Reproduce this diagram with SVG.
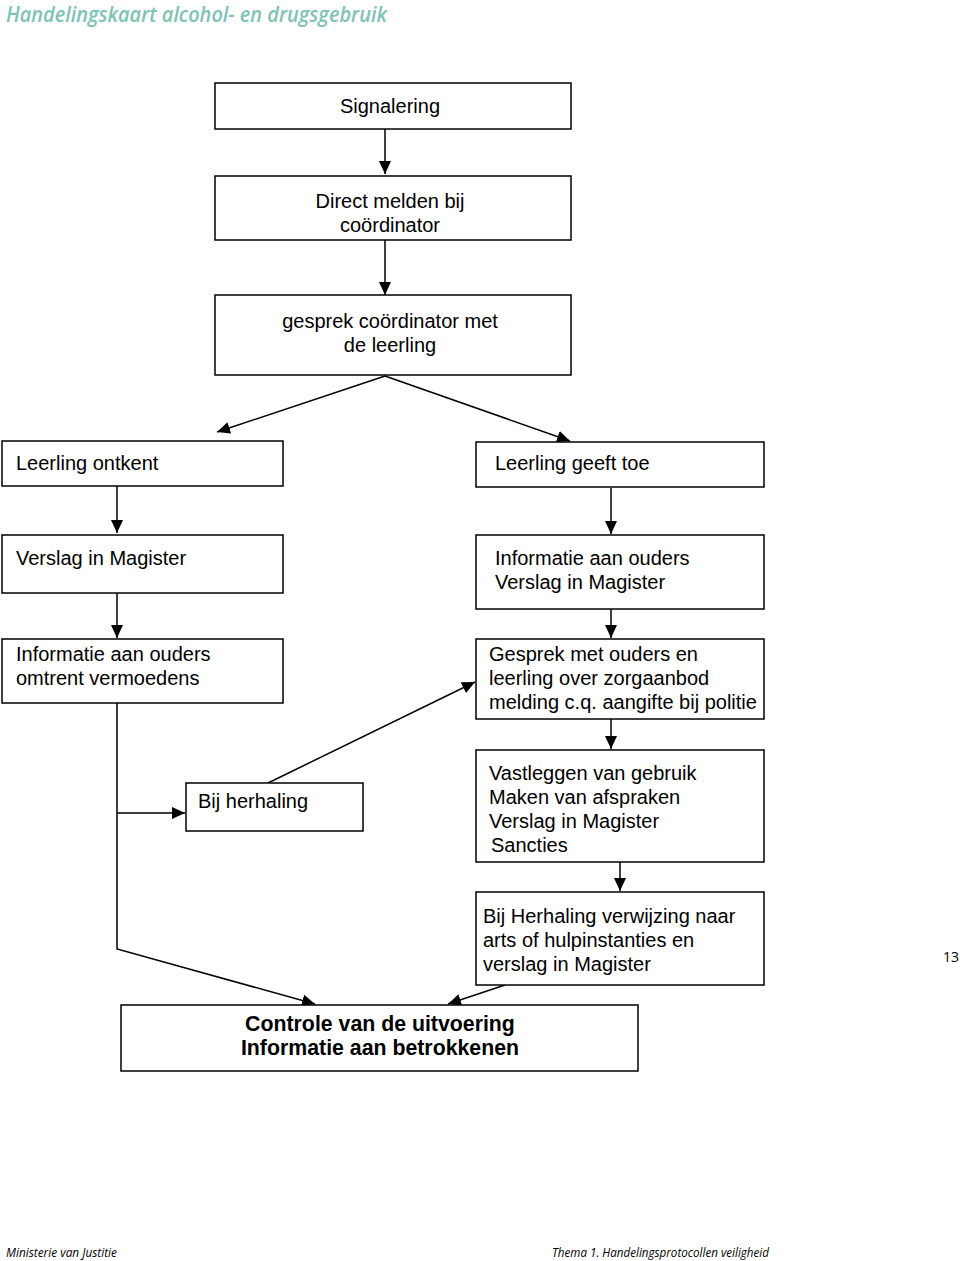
<svg xmlns="http://www.w3.org/2000/svg" width="960" height="1261" viewBox="0 0 960 1261">
<style>
.box{fill:#fff;stroke:#000;stroke-width:1.5}
.t{font-family:"Liberation Sans",Arial,sans-serif;font-size:20px;fill:#000}
.c{text-anchor:middle}
.b{font-weight:bold;font-size:21.3px}
.ln{stroke:#000;stroke-width:1.5;fill:none}
.hdr{font-family:"Open Sans","Noto Sans",sans-serif;font-style:italic;font-weight:600;fill:#7dc3b6}
.ft{font-family:"Open Sans","Noto Sans",sans-serif;font-style:italic;font-size:12.5px;fill:#000}
</style>
<defs>
<marker id="ah" markerUnits="userSpaceOnUse" markerWidth="14" markerHeight="12" refX="13" refY="6" orient="auto">
<path d="M0,0 L13,6 L0,12 Z" fill="#000"/>
</marker>
</defs>
<rect width="960" height="1261" fill="#fff"/>
<text class="hdr" x="6" y="22" font-size="22" textLength="381" lengthAdjust="spacingAndGlyphs">Handelingskaart alcohol- en drugsgebruik</text>

<g id="connectors">
<line class="ln" x1="385" y1="129" x2="385" y2="174" marker-end="url(#ah)"/>
<line class="ln" x1="385" y1="240" x2="385" y2="295" marker-end="url(#ah)"/>
<line class="ln" x1="385" y1="376" x2="217" y2="432" marker-end="url(#ah)"/>
<line class="ln" x1="385" y1="376" x2="570" y2="441" marker-end="url(#ah)"/>
<line class="ln" x1="117" y1="486" x2="117" y2="533" marker-end="url(#ah)"/>
<line class="ln" x1="611" y1="488" x2="611" y2="534" marker-end="url(#ah)"/>
<line class="ln" x1="117" y1="593" x2="117" y2="638" marker-end="url(#ah)"/>
<line class="ln" x1="611" y1="609" x2="611" y2="638" marker-end="url(#ah)"/>
<line class="ln" x1="611" y1="719" x2="611" y2="749" marker-end="url(#ah)"/>
<line class="ln" x1="620" y1="860" x2="620" y2="891" marker-end="url(#ah)"/>
<polyline class="ln" points="117,703 117,949 315,1004" marker-end="url(#ah)"/>
<line class="ln" x1="117" y1="813" x2="185" y2="813" marker-end="url(#ah)"/>
<line class="ln" x1="268" y1="783" x2="475" y2="682" marker-end="url(#ah)"/>
<line class="ln" x1="505" y1="985" x2="448" y2="1004" marker-end="url(#ah)"/>
</g>

<g id="n1"><rect class="box" x="215" y="83" width="356" height="46"/><text class="t c" x="390" y="113">Signalering</text></g>
<g id="n2"><rect class="box" x="215" y="176" width="356" height="64"/><text class="t c" x="390" y="208">Direct melden bij</text><text class="t c" x="390" y="232">coördinator</text></g>
<g id="n3"><rect class="box" x="215" y="295" width="356" height="80"/><text class="t c" x="390" y="328">gesprek coördinator met</text><text class="t c" x="390" y="352">de leerling</text></g>
<g id="n4"><rect class="box" x="2" y="441" width="281" height="45"/><text class="t" x="16" y="470">Leerling ontkent</text></g>
<g id="n5"><rect class="box" x="476" y="442" width="288" height="45"/><text class="t" x="495" y="470">Leerling geeft toe</text></g>
<g id="n6"><rect class="box" x="2" y="535" width="281" height="58"/><text class="t" x="16" y="565">Verslag in Magister</text></g>
<g id="n7"><rect class="box" x="476" y="535" width="288" height="74"/><text class="t" x="495" y="565">Informatie aan ouders</text><text class="t" x="495" y="589">Verslag in Magister</text></g>
<g id="n8"><rect class="box" x="2" y="639" width="281" height="64"/><text class="t" x="16" y="661">Informatie aan ouders</text><text class="t" x="16" y="685">omtrent vermoedens</text></g>
<g id="n9"><rect class="box" x="476" y="639" width="288" height="80"/><text class="t" x="489" y="661">Gesprek met ouders en</text><text class="t" x="489" y="685">leerling over zorgaanbod</text><text class="t" x="489" y="709">melding c.q. aangifte bij politie</text></g>
<g id="n10"><rect class="box" x="186" y="783" width="177" height="48"/><text class="t" x="198" y="808">Bij herhaling</text></g>
<g id="n11"><rect class="box" x="476" y="750" width="288" height="112"/><text class="t" x="489" y="780">Vastleggen van gebruik</text><text class="t" x="489" y="804">Maken van afspraken</text><text class="t" x="489" y="828">Verslag in Magister</text><text class="t" x="491" y="852">Sancties</text></g>
<g id="n12"><rect class="box" x="476" y="892" width="288" height="93"/><text class="t" x="483" y="923">Bij Herhaling verwijzing naar</text><text class="t" x="483" y="947">arts of hulpinstanties en</text><text class="t" x="483" y="971">verslag in Magister</text></g>
<g id="n13"><rect class="box" x="121" y="1005" width="517" height="66"/><text class="t c b" x="380" y="1031">Controle van de uitvoering</text><text class="t c b" x="380" y="1055">Informatie aan betrokkenen</text></g>

<text class="ft" x="943" y="962" style="font-style:normal;font-size:14px">13</text>
<text class="ft" x="6" y="1257" textLength="111" lengthAdjust="spacingAndGlyphs">Ministerie van Justitie</text>
<text class="ft" x="552" y="1257" textLength="217" lengthAdjust="spacingAndGlyphs">Thema 1. Handelingsprotocollen veiligheid</text>
</svg>
